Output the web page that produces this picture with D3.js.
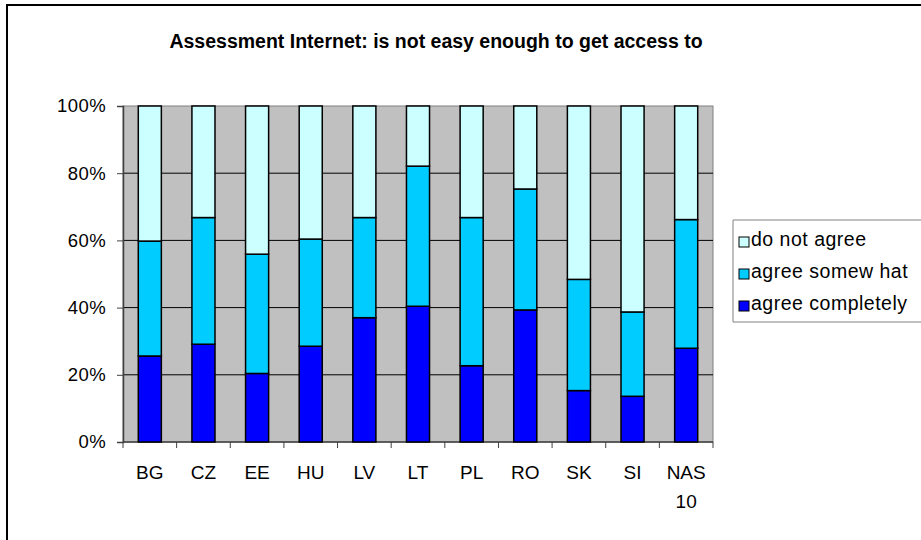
<!DOCTYPE html>
<html>
<head>
<meta charset="utf-8">
<script src="https://cdn.jsdelivr.net/npm/d3@7"></script>
<style>
	body { margin: 0; background: #fff; }
	text { font-family: Arial, "Liberation Sans", sans-serif; }
</style>
</head>
<body>
<script>
//chart data (percent of answers)
let countries = ["BG", "CZ", "EE", "HU", "LV", "LT", "PL", "RO", "SK", "SI", "NAS 10"];
let agreeCompletely = [25.6, 29.1, 20.4, 28.5, 37.0, 40.4, 22.7, 39.3, 15.3, 13.6, 27.9];
let agreeSomewhat = [34.2, 37.7, 35.5, 31.9, 29.8, 41.7, 44.1, 36.0, 33.1, 25.1, 38.3];
let doNotAgree = [40.2, 33.2, 44.1, 39.6, 33.2, 17.9, 33.2, 24.7, 51.6, 61.3, 33.8];
let seriesNames = ["agree completely", "agree somew hat", "do not agree"];
let seriesColors = ["#0000ff", "#00ccff", "#ccffff"];
let yTicks = [0, 20, 40, 60, 80, 100];

let svg = d3.select("body").append("svg")
	.attr("width", 921)
	.attr("height", 540);

let width = +svg.attr("width");
let height = +svg.attr("height");

//outer chart frame, only the left and top edges are inside the picture
svg.append("path")
	.attr("d", `M7,${height} L7,5 L${width},5`)
	.attr("fill", "none")
	.attr("stroke", "black")
	.attr("stroke-width", 2);

svg.append("text")
	.attr("x", 436)
	.attr("y", 48)
	.attr("text-anchor", "middle")
	.attr("font-size", 19.5)
	.attr("font-weight", "bold")
	.text("Assessment Internet: is not easy enough to get access to");

let margin = { top: 106, left: 123 };
let innerWidth = 590;
let innerHeight = 336;

//build a table for the stack
let table = countries.map((c, i) => ({
	country: c,
	"agree completely": agreeCompletely[i],
	"agree somew hat": agreeSomewhat[i],
	"do not agree": doNotAgree[i]
}));
let stacked = d3.stack().keys(seriesNames)(table);

let scaleX = d3.scaleBand()
	.domain(countries)
	.range([0, innerWidth])
	.paddingInner(0.57)
	.paddingOuter(0.285);

let scaleY = d3.scaleLinear()
	.domain([0, 100])
	.range([innerHeight, 0]);

let g = svg.append("g")
	.attr("transform", `translate(${margin.left}, ${margin.top})`);

//grey plot area
g.append("rect")
	.attr("width", innerWidth)
	.attr("height", innerHeight)
	.attr("fill", "#c0c0c0")
	.attr("stroke", "#808080")
	.attr("stroke-width", 1);

//gridlines
g.selectAll(".grid")
	.data(yTicks.filter(d => d > 0 && d < 100))
	.join("line")
	.attr("x1", 0)
	.attr("x2", innerWidth)
	.attr("y1", d => scaleY(d))
	.attr("y2", d => scaleY(d))
	.attr("stroke", "black")
	.attr("stroke-width", 1);

//y axis
let yAxis = d3.axisLeft(scaleY)
	.tickValues(yTicks)
	.tickFormat(d => d + "%")
	.tickSize(6)
	.tickPadding(11);

let yG = g.append("g").call(yAxis);
yG.selectAll("text")
	.attr("font-size", 18.5)
	.attr("letter-spacing", 0.4)
	.attr("fill", "black");
yG.selectAll("line, path").attr("stroke", "#404040");
yG.select(".domain").attr("stroke-width", 1.5);

//x axis, ticks sit between the categories
let xG = g.append("g")
	.attr("transform", `translate(0, ${innerHeight})`);

let step = scaleX.step();
xG.append("line")
	.attr("x1", 0)
	.attr("x2", innerWidth)
	.attr("stroke", "#404040")
	.attr("stroke-width", 1.5);

xG.selectAll(".tick")
	.data(d3.range(countries.length + 1))
	.join("line")
	.attr("x1", d => d * step)
	.attr("x2", d => d * step)
	.attr("y1", 0)
	.attr("y2", 6)
	.attr("stroke", "#404040");

xG.selectAll(".lab")
	.data(countries)
	.join("text")
	.attr("x", d => scaleX(d) + scaleX.bandwidth() / 2)
	.attr("y", 37)
	.attr("text-anchor", "middle")
	.attr("font-size", 19)
	.each(function(d) {
		let parts = d.split(" ");
		d3.select(this).selectAll("tspan")
			.data(parts)
			.join("tspan")
			.attr("x", scaleX(d) + scaleX.bandwidth() / 2)
			.attr("dy", (p, i) => i == 0 ? 0 : 29)
			.text(p => p);
	});

//the stacked bars
g.selectAll(".series")
	.data(stacked)
	.join("g")
	.attr("fill", (d, i) => seriesColors[i])
	.selectAll("rect")
	.data(d => d)
	.join("rect")
	.attr("x", d => scaleX(d.data.country))
	.attr("y", d => scaleY(d[1]))
	.attr("width", scaleX.bandwidth())
	.attr("height", d => scaleY(d[0]) - scaleY(d[1]))
	.attr("stroke", "black")
	.attr("stroke-width", 1.5);

//legend box, its right side runs off the picture
let legend = svg.append("g")
	.attr("transform", "translate(733, 220)");

legend.append("path")
	.attr("d", `M${width - 733},0 L0,0 L0,102 L${width - 733},102`)
	.attr("fill", "white")
	.attr("stroke", "#808080");

let legendOrder = [2, 1, 0];
legend.selectAll(".item")
	.data(legendOrder)
	.join("g")
	.attr("transform", (d, i) => `translate(6, ${17 + i * 32})`)
	.each(function(d) {
		let item = d3.select(this);
		item.append("rect")
			.attr("x", 0)
			.attr("y", 0)
			.attr("width", 10)
			.attr("height", 10)
			.attr("fill", seriesColors[d])
			.attr("stroke", "black");
		item.append("text")
			.attr("x", 12)
			.attr("y", 9)
			.attr("font-size", 19.5)
			.attr("letter-spacing", 0.5)
			.text(seriesNames[d]);
	});
</script>
</body>
</html>
